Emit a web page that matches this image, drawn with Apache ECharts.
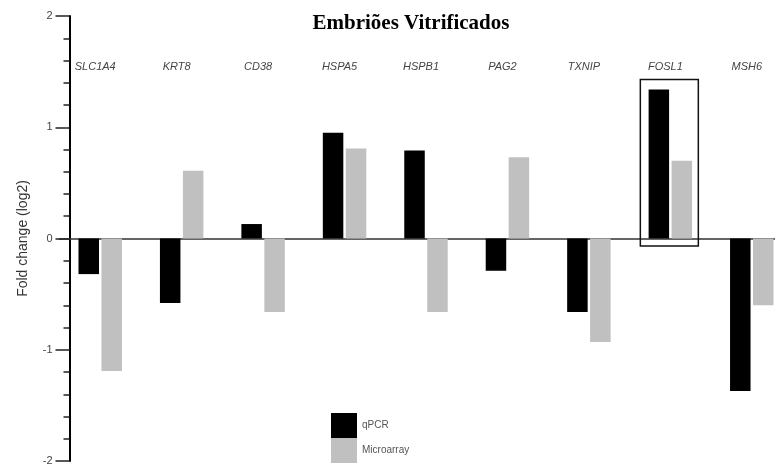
<!DOCTYPE html>
<html>
<head>
<meta charset="utf-8">
<script src="https://cdn.jsdelivr.net/npm/echarts@6/dist/echarts.min.js"></script>
<style>html,body{margin:0;padding:0;background:#fff;}#c{width:775px;height:466px;}</style>
</head>
<body>
<div id="c"></div>
<script>
var categories = ['SLC1A4','KRT8','CD38','HSPA5','HSPB1','PAG2','TXNIP','FOSL1','MSH6'];
var qpcr = [-0.32, -0.58, 0.13, 0.95, 0.79, -0.29, -0.66, 1.34, -1.37];
var microarray = [-1.19, 0.61, -0.66, 0.81, -0.66, 0.73, -0.93, 0.70, -0.60];
var yTicks = [-2, -1, 0, 1, 2];
var highlightGene = 'FOSL1';
var highlightTop = 1.43;
var highlightBottom = -0.067;

var chart = echarts.init(document.getElementById('c'), null, {renderer: 'canvas'});
var legendText = {fontFamily: 'Liberation Sans', fontSize: 10, color: '#555', padding: [5, 0, 0, 0]};
var option = {
  backgroundColor: '#fff',
  animation: false,
  title: {
    text: 'Embriões Vitrificados',
    left: 406, top: 8, textAlign: 'center',
    textStyle: {fontFamily: 'Liberation Serif', fontWeight: 'bold', fontSize: 21, color: '#000'}
  },
  legend: [{
    orient: 'vertical', left: 331, top: 413, itemWidth: 26, itemHeight: 25, itemGap: 0, padding: 0,
    icon: 'rect', textStyle: legendText, data: ['qPCR']
  }, {
    orient: 'vertical', left: 331, top: 438, itemWidth: 26, itemHeight: 25, itemGap: 0, padding: 0,
    icon: 'rect', textStyle: legendText, data: ['Microarray']
  }],
  grid: {left: 59.5, top: 16, width: 733, height: 445, containLabel: false, outerBoundsMode: 'none'},
  xAxis: [{
    type: 'category', data: categories, position: 'bottom',
    axisLine: {show: true, onZero: true, lineStyle: {color: '#333', width: 1.5}},
    axisTick: {show: false}, axisLabel: {show: false}, splitLine: {show: false}
  }, {
    type: 'category', data: categories, position: 'top',
    axisLine: {show: false, onZero: false}, axisTick: {show: false},
    axisLabel: {show: true, inside: true, margin: 45, fontFamily: 'Liberation Sans', fontStyle: 'italic',
      fontSize: 11, color: '#444', padding: [0, 10, 0, 0]},
    splitLine: {show: false}
  }],
  yAxis: {
    type: 'value', min: yTicks[0], max: yTicks[yTicks.length - 1], interval: 1, offset: -10,
    name: 'Fold change (log2)', nameLocation: 'middle', nameGap: 39,
    nameTextStyle: {fontFamily: 'Liberation Sans', fontSize: 14, color: '#333'},
    axisLine: {show: true, lineStyle: {color: '#000', width: 2}},
    axisTick: {show: true, inside: false, length: 14, lineStyle: {color: '#222', width: 1.5}},
    minorTick: {show: true, splitNumber: 5, length: 6, lineStyle: {color: '#222', width: 1.5}},
    axisLabel: {margin: 17, fontFamily: 'Liberation Sans', fontSize: 11, color: '#444'},
    splitLine: {show: false}, minorSplitLine: {show: false}
  },
  series: [{
    name: 'qPCR', type: 'bar', data: qpcr, barWidth: 20.5, barGap: '12%',
    itemStyle: {color: '#000'}
  }, {
    name: 'Microarray', type: 'bar', data: microarray, barWidth: 20.5,
    itemStyle: {color: '#c0c0c0'}
  }]
};
chart.setOption(option);

var idx = categories.indexOf(highlightGene);
var cx = chart.convertToPixel({xAxisIndex: 0}, idx);
var yT = chart.convertToPixel({yAxisIndex: 0}, highlightTop);
var yB = chart.convertToPixel({yAxisIndex: 0}, highlightBottom);
chart.setOption({
  graphic: [{
    type: 'rect', shape: {x: cx - 30, y: yT, width: 58, height: yB - yT},
    style: {fill: 'none', stroke: '#111', lineWidth: 1.5}, z: 10
  }]
});
</script>
</body>
</html>
